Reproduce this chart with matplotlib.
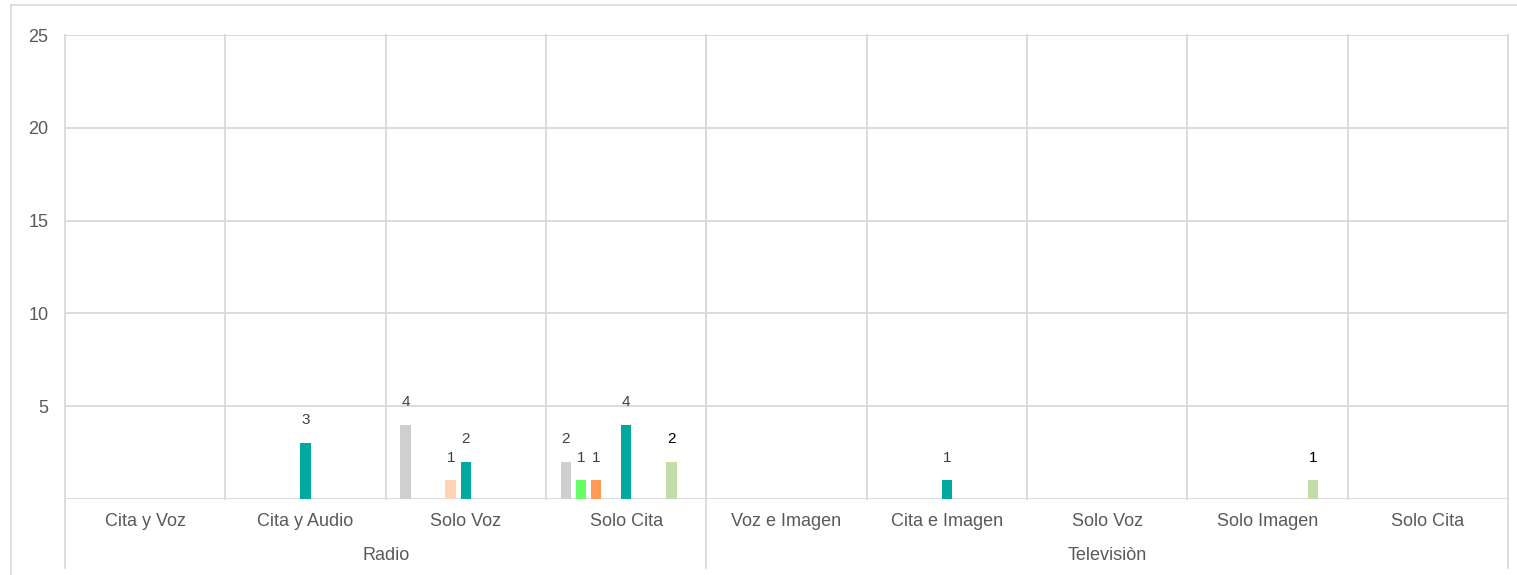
import matplotlib
matplotlib.use("Agg")
import matplotlib.pyplot as plt
from matplotlib.lines import Line2D

plt.rcParams['font.family'] = ['Liberation Sans', 'DejaVu Sans']

# Categories (two-level axis: medium / presentation)
groups = ["Radio", "Televisiòn"]
group_categories = [
    ["Cita y Voz", "Cita y Audio", "Solo Voz", "Solo Cita"],
    ["Voz e Imagen", "Cita e Imagen", "Solo Voz", "Solo Imagen", "Solo Cita"],
]
categories = [c for g in group_categories for c in g]

# One value list per series, in category order
serie_1 = [0, 0, 4, 2, 0, 0, 0, 0, 0]
serie_2 = [0, 0, 0, 1, 0, 0, 0, 0, 0]
serie_3 = [0, 0, 0, 1, 0, 0, 0, 0, 0]
serie_4 = [0, 0, 1, 0, 0, 0, 0, 0, 0]
serie_5 = [0, 3, 2, 4, 0, 1, 0, 0, 0]
serie_6 = [0, 0, 0, 0, 0, 0, 0, 0, 0]
serie_7 = [0, 0, 0, 0, 0, 0, 0, 0, 0]
serie_8 = [0, 0, 0, 2, 0, 0, 0, 1, 0]
serie_9 = [0, 0, 0, 0, 0, 0, 0, 0, 0]

series = [serie_1, serie_2, serie_3, serie_4, serie_5,
          serie_6, serie_7, serie_8, serie_9]
colors = ["#D0CECE", "#66FF66", "#FF9955", "#FFD3B5", "#00A99D",
          "#5B9BD5", "#A5A5A5", "#C2DDA9", "#4472C4"]
label_colors = ["#404040"] * 7 + ["#000000", "#404040"]

y_ticks = [5, 10, 15, 20, 25]

W, H = 1517, 575
fig = plt.figure(figsize=(W / 100, H / 100), dpi=100)
ax_left, ax_right, ax_top, ax_bottom = 65, 1508, 35, 499
ax = fig.add_axes([ax_left / W, (H - ax_bottom) / H,
                   (ax_right - ax_left) / W, (ax_bottom - ax_top) / H])

grid_c = "#D9D9D9"
lw = 1.3
n = len(categories)
n_series = len(series)
slot = 0.0942
bar_w = 0.0655

for k, vals in enumerate(series):
    xs = [i + (k - (n_series - 1) / 2) * slot for i in range(n)]
    ax.bar(xs, vals, width=bar_w, color=colors[k], zorder=3)
    for x, v in zip(xs, vals):
        if v:
            ax.annotate(str(v), (x, v), xytext=(0, 16.5),
                        textcoords="offset points", ha="center", va="center",
                        fontsize=11, color=label_colors[k], zorder=4)

ax.set_xlim(-0.5, n - 0.5)
ax.set_ylim(0, 25)
ax.set_yticks(y_ticks)
ax.set_yticklabels([str(t) for t in y_ticks])
ax.tick_params(axis="y", length=0, pad=12, labelsize=13, labelcolor="#595959")
ax.set_xticks([])
for s in ax.spines.values():
    s.set_visible(False)

# Horizontal gridlines and category axis line
for t in [0] + y_ticks:
    ax.axhline(t, color=grid_c, lw=lw, zorder=1)

# Category separators inside the plot area
for b in range(1, n):
    ax.plot([b - 0.5, b - 0.5], [0, 25], color=grid_c, lw=lw, zorder=1,
            clip_on=False)

# Group separators reach down through the label area
y_low = -(568 - ax_bottom) / (ax_bottom - ax_top)
bounds = [-0.5]
for g in group_categories:
    bounds.append(bounds[-1] + len(g))
for b in bounds:
    ax.plot([b, b], [y_low, 1], color=grid_c, lw=lw, zorder=1,
            clip_on=False, transform=ax.get_xaxis_transform())

# Category and group labels
cat_y = -(521 - ax_bottom) / (ax_bottom - ax_top)
grp_y = -(556 - ax_bottom) / (ax_bottom - ax_top)
for i, c in enumerate(categories):
    ax.text(i, cat_y, c, ha="center", va="center", fontsize=13,
            color="#595959", transform=ax.get_xaxis_transform())
for gi, g in enumerate(groups):
    mid = (bounds[gi] + bounds[gi + 1]) / 2
    ax.text(mid, grp_y, g, ha="center", va="center", fontsize=13,
            color="#595959", transform=ax.get_xaxis_transform())

# Chart area border (left and top edges visible)
fig.add_artist(Line2D([10.5 / W, 10.5 / W], [0, (H - 5) / H],
                      color=grid_c, lw=1.2, transform=fig.transFigure))
fig.add_artist(Line2D([10.5 / W, 1], [(H - 5) / H, (H - 5) / H],
                      color=grid_c, lw=1.2, transform=fig.transFigure))

fig.savefig("out.png", dpi=100)
